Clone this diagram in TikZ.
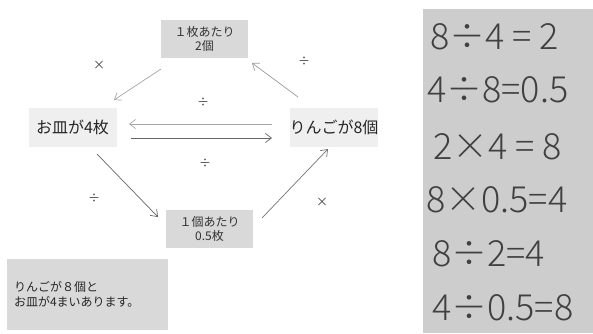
\documentclass[tikz,border=0pt]{standalone}
\usepackage{fontspec}
\setmainfont{Noto Sans CJK JP}
\newfontfamily\handfont{Noto Sans CJK JP}[UprightFont={* Light}]
\usetikzlibrary{arrows.meta}

\definecolor{boxGray}{HTML}{D9D9D9}
\definecolor{boxLight}{HTML}{EFEFEF}
\definecolor{photoGray}{HTML}{CDCDCD}

\begin{document}
\begin{tikzpicture}[x=1pt,y=-1pt,
        grayBox/.style = {fill=boxGray,text=black!80,font=\fontsize{12}{14}\selectfont,align=center,minimum width=87pt,minimum height=38pt,inner sep=0pt},
        lightBox/.style = {fill=boxLight,text=black!85,font=\fontsize{16}{18}\selectfont,minimum width=88pt,minimum height=39pt,inner sep=0pt},
        noteBox/.style = {fill=boxGray,text=black!85,font=\fontsize{12}{15}\selectfont,align=left,minimum width=161pt,minimum height=71pt,inner sep=0pt,text width=147pt}, % text starts 7pt inside
        opLabel/.style = {text=black!75,font=\fontsize{12}{14}\selectfont,inner sep=0pt},
        handLine/.style = {anchor=west,text=black!75,font=\handfont\fontsize{36}{40}\selectfont,inner sep=0pt},
        flow/.style = {-{Straight Barb[length=6pt,width=9pt]},line width=0.7pt}
        ]
        \useasboundingbox (0,0) rectangle (593,333);
        % boxes of the diagram
        \node[grayBox] (perPlate) at (204.5,39) {１枚あたり\\2個};
        \node[lightBox] (plates) at (72.5,127.5) {お皿が4枚};
        \node[lightBox] (apples) at (334,127.5) {りんごが8個};
        \node[grayBox] (perApple) at (209.5,229) {１個あたり\\0.5枚};
        \node[noteBox] (note) at (87.5,294.5) {りんごが８個と\\お皿が4まいあります。};
        % arrows
        \coordinate (tlFrom) at (161,69);
        \coordinate (tlTo) at (114,100);
        \coordinate (trFrom) at (298,97);
        \coordinate (trTo) at (252,63);
        \coordinate (hTopFrom) at (272,124);
        \coordinate (hTopTo) at (129,124);
        \coordinate (hBotFrom) at (131,138);
        \coordinate (hBotTo) at (272,138);
        \coordinate (blFrom) at (97,154);
        \coordinate (blTo) at (158,217);
        \coordinate (brFrom) at (262,218);
        \coordinate (brTo) at (328,149);
        \draw[flow,black!35] (tlFrom) -- (tlTo);
        \draw[flow,black!40] (trFrom) -- (trTo);
        \draw[flow,black!35] (hTopFrom) -- (hTopTo);
        \draw[flow,black!60] (hBotFrom) -- (hBotTo);
        \draw[flow,black!60] (blFrom) -- (blTo);
        \draw[flow,black!55] (brFrom) -- (brTo);
        % operation signs
        \node[opLabel] (opTL) at (99,65) {×};
        \node[opLabel] (opTR) at (304,61) {÷};
        \node[opLabel] (opTop) at (203,102) {÷};
        \node[opLabel] (opBot) at (205,163) {÷};
        \node[opLabel] (opBL) at (94,198) {÷};
        \node[opLabel] (opBR) at (322,202) {×};
        % photo of the worked sums
        \fill[photoGray] (423,9) rectangle (593,333);
        \node[handLine] (sumA) at (430,37) {8÷4 = 2};
        \node[handLine] (sumB) at (427,90) {4÷8=0.5};
        \node[handLine] (sumC) at (433,147) {2×4 = 8};
        \node[handLine] (sumD) at (426,200) {8×0.5=4};
        \node[handLine] (sumE) at (432,254) {8÷2=4};
        \node[handLine] (sumF) at (432,308) {4÷0.5=8};
\end{tikzpicture}
\end{document}
